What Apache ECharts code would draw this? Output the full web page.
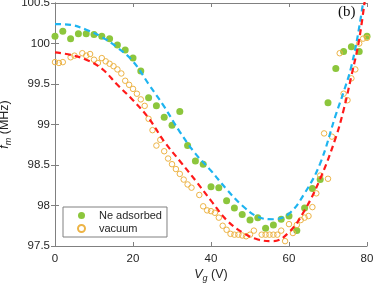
<!DOCTYPE html>
<html>
<head>
<meta charset="utf-8">
<script src="https://cdn.jsdelivr.net/npm/echarts@6/dist/echarts.min.js"></script>
<style>
html,body{margin:0;padding:0;background:#fff;}
#chart{width:374px;height:289px;}
</style>
</head>
<body>
<div id="chart"></div>
<script>
// Ne adsorbed (filled green)
var neV = [0,2,4,6,8,10,12,14,16,18,20,22,24,26,28,30,32,34,36,38,40,42,44,46,48,50,52,54,56,58,60,62,64,66,68,70,72,74,76,78,80];
var neF = [100.09,100.15,100.06,100.12,100.12,100.11,100.09,100.06,99.98,99.92,99.82,99.66,99.33,99.23,99.09,98.99,99.16,98.74,98.55,98.51,98.23,98.22,98.06,97.97,97.89,97.82,97.85,97.72,97.76,97.83,97.87,97.69,97.97,98.21,98.32,99.27,99.69,99.90,99.96,99.90,100.09];
// vacuum (open orange circles)
var vacV = [0,1,2,4,5,7,8,9,10,11,12,13,14,15,16,17,18,19,20,21,22,23,24,25,26,27,28,29,30,31,32,33,34,35,37,38,39,40,41,42,43,44,45,46,47,48,49,50,51,53,54,55,56,57,58,59,60,61,62,63,64,65,66,67,68,69,70,71,73,74,75,76,77,78,79,80];
var vacF = [99.77,99.76,99.77,99.83,99.85,99.88,99.85,99.87,99.80,99.76,99.82,99.78,99.75,99.72,99.68,99.63,99.54,99.49,99.44,99.38,99.31,99.23,99.07,98.93,98.74,98.81,98.67,98.58,98.51,98.45,98.39,98.32,98.26,98.22,98.13,97.99,97.94,97.93,97.91,97.85,97.75,97.70,97.65,97.64,97.64,97.63,97.62,97.64,97.69,97.64,97.64,97.64,97.64,97.64,97.69,97.56,97.77,97.66,97.76,97.82,97.85,97.87,97.98,98.15,98.37,98.89,98.33,98.85,99.88,99.38,99.30,99.57,99.68,100.00,100.06,100.07];
// fit curves (dashed)
var fitV = [0,4,8,12,16,20,24,28,32,36,40,44,48,52,56,60,64,68,72,74,76,78,80];
var neFit = [100.24,100.23,100.17,100.08,99.95,99.78,99.50,99.22,98.91,98.64,98.43,98.20,98.00,97.86,97.83,97.90,98.15,98.52,99.12,99.40,99.72,100.20,100.85];
var vacFit = [99.89,99.86,99.80,99.69,99.49,99.30,99.08,98.79,98.55,98.31,98.06,97.82,97.67,97.58,97.56,97.67,97.94,98.33,98.84,99.18,99.60,100.05,100.75];
// axes
var xTicks = {min: 0, max: 80, interval: 20};
var yTicks = {min: 97.5, max: 100.5, interval: 0.5};

function pairs(a, b) { return a.map(function (v, i) { return [v, b[i]]; }); }

var FONT = 'Liberation Sans, Arial, sans-serif';
var TXT = '#262626';
var AX = '#808080';

var chart = echarts.init(document.getElementById('chart'), null, {renderer: 'canvas'});
var axisCommon = {
  axisLine: {show: true, lineStyle: {color: AX, width: 1}},
  axisTick: {show: true, inside: true, length: 4, lineStyle: {color: AX}},
  splitLine: {show: false},
  nameMoveOverlap: false
};
chart.setOption({
  animation: false,
  backgroundColor: '#fff',
  grid: {left: 55, right: 7, top: 3, bottom: 43, containLabel: false, outerBoundsMode: 'none'},
  xAxis: [
    Object.assign({
      type: 'value', min: xTicks.min, max: xTicks.max, interval: xTicks.interval,
      position: 'bottom',
      axisLabel: {color: TXT, fontSize: 11.5, fontFamily: FONT, margin: 7},
      name: '{i|V}{s|g} (V)', nameLocation: 'middle', nameGap: 21,
      nameTextStyle: {color: TXT, fontSize: 12.5, fontFamily: FONT,
        rich: {i: {fontStyle: 'italic', fontSize: 12.5, fontFamily: FONT, color: TXT},
               s: {fontStyle: 'italic', fontSize: 9, fontFamily: FONT, color: TXT, padding: [7, 0, 0, 0]}}}
    }, axisCommon),
    Object.assign({
      type: 'value', min: xTicks.min, max: xTicks.max, interval: xTicks.interval,
      position: 'top', axisLabel: {show: false}
    }, axisCommon)
  ],
  yAxis: [
    Object.assign({
      type: 'value', min: yTicks.min, max: yTicks.max, interval: yTicks.interval,
      position: 'left',
      axisLabel: {color: TXT, fontSize: 11.5, fontFamily: FONT, margin: 5},
      name: '{i|f}{s|m} (MHz)', nameLocation: 'middle', nameGap: 42, nameRotate: 90,
      nameTextStyle: {color: TXT, fontSize: 12.5, fontFamily: FONT,
        rich: {i: {fontStyle: 'italic', fontSize: 12.5, fontFamily: FONT, color: TXT},
               s: {fontStyle: 'italic', fontSize: 9, fontFamily: FONT, color: TXT, padding: [7, 0, 0, 0]}}}
    }, axisCommon),
    Object.assign({
      type: 'value', min: yTicks.min, max: yTicks.max, interval: yTicks.interval,
      position: 'right', axisLabel: {show: false}
    }, axisCommon)
  ],
  legend: {
    show: true, orient: 'vertical', left: 63, top: 207,
    padding: [3, 5, 3, 14], itemGap: 2, itemWidth: 7, itemHeight: 7,
    borderColor: AX, borderWidth: 1, backgroundColor: '#fff',
    textStyle: {color: TXT, fontSize: 11, fontFamily: FONT, padding: [0, 0, 0, 9]},
    data: ['Ne adsorbed', 'vacuum']
  },
  graphic: [{
    type: 'text', left: 338, top: 5, z: 100,
    style: {text: '(b)', font: '15px "Liberation Serif", "Times New Roman", serif', fill: '#111'}
  }],
  series: [
    {
      name: 'Ne adsorbed', type: 'scatter', data: pairs(neV, neF),
      symbol: 'circle', symbolSize: 7,
      itemStyle: {color: '#8CC63C', opacity: 1}, z: 2
    },
    {
      name: 'vacuum', type: 'scatter', data: pairs(vacV, vacF),
      symbol: 'circle', symbolSize: 5.5,
      itemStyle: {color: 'rgba(255,255,255,0)', borderColor: '#EDB446', borderWidth: 1, opacity: 1}, z: 3
    },
    {
      name: 'NeFit', type: 'line', data: pairs(fitV, neFit), smooth: 0.4,
      showSymbol: false, symbol: 'none', clip: true,
      lineStyle: {color: '#1EB4F0', width: 2.2, type: [6, 4]}, z: 4
    },
    {
      name: 'vacFit', type: 'line', data: pairs(fitV, vacFit), smooth: 0.4,
      showSymbol: false, symbol: 'none', clip: true,
      lineStyle: {color: '#FF1A1A', width: 2.2, type: [6, 4]}, z: 5
    }
  ]
});
</script>
</body>
</html>
